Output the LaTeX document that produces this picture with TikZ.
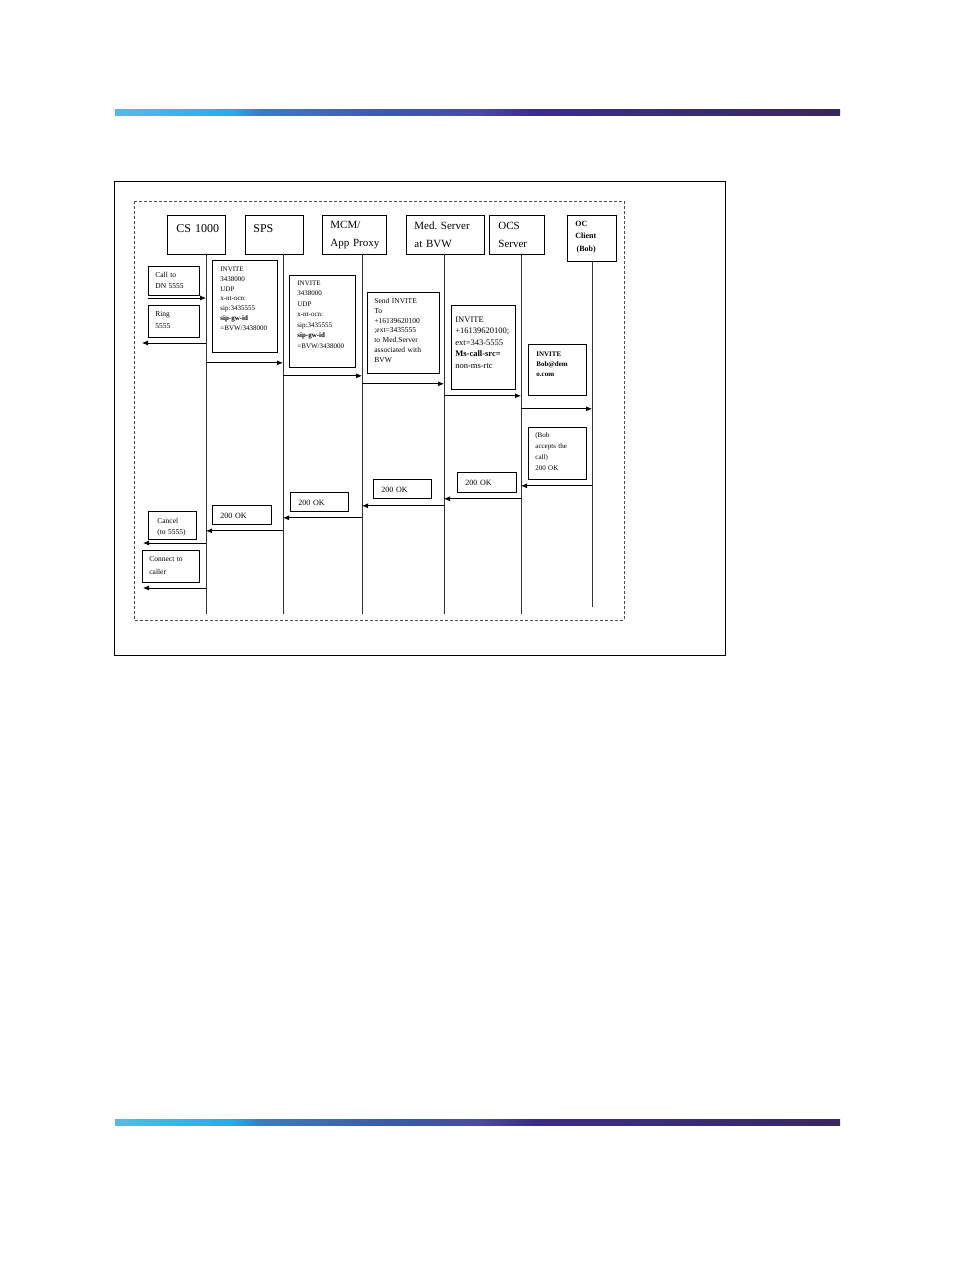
\documentclass[tikz,border=0pt]{standalone}
\usepackage{fontspec}
\setmainfont{Liberation Serif}
\usetikzlibrary{arrows.meta,calc}

\definecolor{barA}{HTML}{5AB9E6}
\definecolor{barB}{HTML}{22B0E0}
\definecolor{barC}{HTML}{3C7CC0}
\definecolor{barD}{HTML}{4068B0}
\definecolor{barE}{HTML}{3A5AA8}
\definecolor{barF}{HTML}{4A4C9E}
\definecolor{barG}{HTML}{3C2A88}
\definecolor{barH}{HTML}{3A2D7A}
\definecolor{barI}{HTML}{37275E}
\pgfdeclarehorizontalshading{navbar}{100bp}{color(0bp)=(barA); color(25bp)=(barA);
  color(33bp)=(barB); color(35bp)=(barC); color(40bp)=(barD); color(44bp)=(barE);
  color(50bp)=(barF); color(54bp)=(barG); color(62bp)=(barH); color(75bp)=(barI);
  color(100bp)=(barI)}

\tikzset{
  msgbox/.style n args={4}{draw, line width=0.8pt, anchor=north west, align=left,
    inner xsep=#3, inner ysep=3pt, text width=#1-2*#3,
    text height=#4, text depth=#2-6pt-#4},
  life/.style={line width=0.8pt, black!80},
  msg/.style={line width=0.8pt, -{Latex[length=6pt,width=5pt]}},
}

\begin{document}
\begin{tikzpicture}[x=1pt, y=-1pt]
\useasboundingbox (0,0) rectangle (954,1272);

% page bars
\shade[shading=navbar] (115,109) rectangle (840,115);
\shade[shading=navbar] (115,1119) rectangle (840,1125);

% frames
\draw[line width=1pt] (114,181) rectangle (725,655);
\draw[line width=0.8pt, black!70, dash pattern=on 3pt off 2pt] (134,201) rectangle (624,620);

% header boxes
\node[msgbox={58}{39}{9pt}{14pt}, font=\fontsize{12}{18}\selectfont] (cs) at (167,215) {CS~1000};
\node[msgbox={58}{39}{8pt}{14pt}, font=\fontsize{12}{18}\selectfont] (sps) at (245,215) {SPS};
\node[msgbox={64}{39}{8pt}{10pt}, font=\fontsize{11}{18}\selectfont] (mcm) at (322,215) {MCM/\\App~Proxy};
\node[msgbox={78}{39}{8pt}{11pt}, font=\fontsize{11}{18}\selectfont] (med) at (406,215) {Med.~Server\\at~BVW};
\node[msgbox={55}{39}{9pt}{11pt}, font=\fontsize{11}{18}\selectfont] (ocs) at (489,215) {OCS\\Server};
\node[msgbox={49}{46}{8pt}{8pt}, font=\bfseries\fontsize{8}{12.5}\selectfont] (oc) at (567,215) {OC\\Client\\\,(Bob)};

% lifelines
\foreach \n/\x/\t/\b in {cs/206/254/614, sps/283/254/614, mcm/362/254/614,
                          med/444/254/614, ocs/521/254/614, oc/592/261/607} {
  \coordinate (\n-top) at (\x,\t);
  \coordinate (\n-bot) at (\x,\b);
  \draw[life] (\n-top) -- (\n-bot);
}

% notes, outgoing
\node[msgbox={51}{29}{7pt}{8pt}, font=\fontsize{7.5}{11}\selectfont] (callto) at (148,266) {Call~to\\DN~5555};
\node[msgbox={51}{32}{7pt}{8pt}, font=\fontsize{7.5}{12}\selectfont] (ring) at (148,305) {Ring\\5555};
\node[msgbox={65}{92}{8pt}{8pt}, font=\fontsize{7}{9.8}\selectfont] (inv1) at (212,260)
  {INVITE\\3438000\\UDP\\x-nt-ocn:\\sip:3435555\\\textbf{sip-gw-id}\\=BVW/3438000};
\node[msgbox={66}{92}{8pt}{7pt}, font=\fontsize{7}{10.5}\selectfont] (inv2) at (289,275)
  {INVITE\\3438000\\UDP\\x-nt-ocn:\\sip:3435555\\\textbf{sip-gw-id}\\=BVW/3438000};
\node[msgbox={72}{81}{7pt}{8pt}, font=\fontsize{7.5}{9.8}\selectfont] (send) at (367,292)
  {Send~INVITE\\To\\+16139620100\\;ext=3435555\\to~Med.Server\\associated~with\\BVW};
\node[msgbox={64}{84}{4pt}{14pt}, font=\fontsize{8.5}{11.5}\selectfont] (inv3) at (451,305)
  {INVITE\\+16139620100;\\ext=343-5555\\\textbf{Ms-call-src=}\\non-ms-rtc};
\node[msgbox={58}{51}{8pt}{9pt}, font=\bfseries\fontsize{7}{10}\selectfont] (inv4) at (528,344)
  {INVITE\\Bob@dem\\o.com};

% notes, returning
\node[msgbox={58}{52}{7pt}{7pt}, font=\fontsize{7}{11}\selectfont] (accept) at (528,427)
  {(Bob\\accepts~the\\call)\\200~OK};
\node[msgbox={59}{20}{8pt}{10pt}, font=\fontsize{8}{10}\selectfont] (ok1) at (457,472) {200~OK};
\node[msgbox={58}{19}{8pt}{10pt}, font=\fontsize{8}{10}\selectfont] (ok2) at (373,479) {200~OK};
\node[msgbox={58}{19}{8pt}{10pt}, font=\fontsize{8}{10}\selectfont] (ok3) at (290,492) {200~OK};
\node[msgbox={59}{19}{8pt}{10pt}, font=\fontsize{8}{10}\selectfont] (ok4) at (212,505) {200~OK};
\node[msgbox={48}{28}{9pt}{9pt}, font=\fontsize{7.5}{11}\selectfont] (cancel) at (148,511) {Cancel\\(to~5555)};
\node[msgbox={57}{32}{7pt}{8pt}, font=\fontsize{7.5}{13}\selectfont] (connect) at (142,550) {Connect~to\\caller};

% free ends
\coordinate (callin) at (148,298);
\coordinate (ringout) at (142,343);
\coordinate (cancelout) at (143,543);
\coordinate (connout) at (143,588);

% messages
\draw[msg] (callin) -- (callin -| cs-top);
\draw[msg] (ringout -| cs-top) -- (ringout);
\draw[msg] ($(inv1.south -| cs-top)+(0,10)$) -- ($(inv1.south -| sps-top)+(0,10)$);
\draw[msg] ($(inv2.south -| sps-top)+(0,8)$) -- ($(inv2.south -| mcm-top)+(0,8)$);
\draw[msg] ($(send.south -| mcm-top)+(0,10)$) -- ($(send.south -| med-top)+(0,10)$);
\draw[msg] ($(inv3.south -| med-top)+(0,6)$) -- ($(inv3.south -| ocs-top)+(0,6)$);
\draw[msg] ($(inv4.south -| ocs-top)+(0,13)$) -- ($(inv4.south -| oc-top)+(0,13)$);
\draw[msg] ($(accept.south -| oc-top)+(0,6)$) -- ($(accept.south -| ocs-top)+(0,6)$);
\draw[msg] ($(ok1.south -| ocs-top)+(0,6)$) -- ($(ok1.south -| med-top)+(0,6)$);
\draw[msg] ($(ok2.south -| med-top)+(0,7)$) -- ($(ok2.south -| mcm-top)+(0,7)$);
\draw[msg] ($(ok3.south -| mcm-top)+(0,6)$) -- ($(ok3.south -| sps-top)+(0,6)$);
\draw[msg] ($(ok4.south -| sps-top)+(0,6)$) -- ($(ok4.south -| cs-top)+(0,6)$);
\draw[msg] (cancelout -| cs-top) -- (cancelout);
\draw[msg] (connout -| cs-top) -- (connout);
\end{tikzpicture}
\end{document}
